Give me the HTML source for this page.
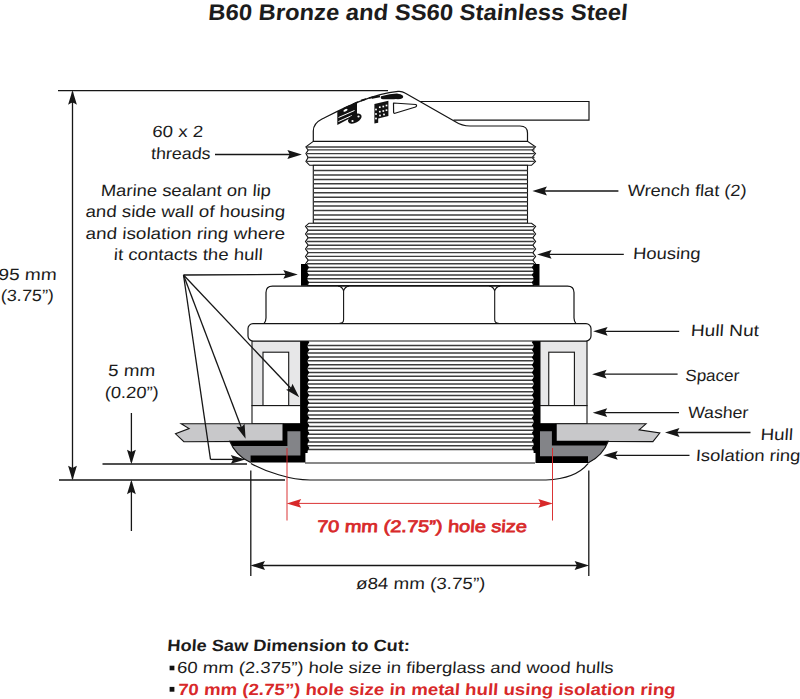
<!DOCTYPE html>
<html><head><meta charset="utf-8"><title>B60 Bronze and SS60 Stainless Steel</title>
<style>
html,body{margin:0;padding:0;background:#fff;width:800px;height:699px;overflow:hidden;}
svg{display:block;}
text{font-family:"Liberation Sans",sans-serif;}
</style></head>
<body>
<svg width="800" height="699" viewBox="0 0 800 699">
<path d="M420,101.5 H589 V120.2 H453.5" fill="none" stroke="#141414" stroke-width="1.2"/>
<path d="M313.3,141.4 V131 C313.3,125 316,122 322,119 C340,110 370,94 398,91.4 Q402,91 405,93 L455,121.5 Q462,126 470,126 H520 Q527.5,126 527.5,133 V141.4" fill="#fff" stroke="#141414" stroke-width="1.2"/>
<path d="M337.3,111.6 L357,102 L357,114.5 L337.3,125 Z" fill="#111"/>
<ellipse cx="345.5" cy="110.3" rx="2.2" ry="1.1" transform="rotate(-25 345.5 110.3)" fill="#fff"/>
<path d="M338.5,117.5 L354.5,110.5 M338.5,121.5 L352,115.5" stroke="#fff" stroke-width="1"/>
<ellipse cx="354.8" cy="118.6" rx="7.4" ry="4.2" transform="rotate(-28 354.8 118.6)" fill="#111"/>
<ellipse cx="352.5" cy="121" rx="1.1" ry="0.9" fill="#fff"/>
<ellipse cx="358.5" cy="116.5" rx="1.1" ry="0.9" fill="#fff"/>
<path d="M374.4,103.9 L388.4,100.8 L388.4,116.1 L378.2,118.6 L378.2,122.8 L374.4,123.5 Z" fill="#111"/>
<rect x="375.15" y="108.65" width="1.7" height="1.7" fill="#fff"/>
<rect x="375.15" y="113.15" width="1.7" height="1.7" fill="#fff"/>
<rect x="375.15" y="117.65" width="1.7" height="1.7" fill="#fff"/>
<rect x="378.95" y="106.35000000000001" width="1.7" height="1.7" fill="#fff"/>
<rect x="378.95" y="110.85000000000001" width="1.7" height="1.7" fill="#fff"/>
<rect x="382.45" y="105.65" width="1.7" height="1.7" fill="#fff"/>
<rect x="382.45" y="110.15" width="1.7" height="1.7" fill="#fff"/>
<rect x="385.65" y="104.65" width="1.7" height="1.7" fill="#fff"/>
<rect x="385.65" y="109.35000000000001" width="1.7" height="1.7" fill="#fff"/>
<rect x="379.15" y="114.65" width="1.7" height="1.7" fill="#fff"/>
<rect x="383.15" y="113.65" width="1.7" height="1.7" fill="#fff"/>
<path d="M393.5,103 L415.8,104.5 Q417.5,105.5 415.5,107 L395,113.2 Q393.6,113.6 393.6,112 Z" fill="#fff" stroke="#141414" stroke-width="1.2" stroke-linejoin="round"/>
<path d="M381,96.2 Q390,93.8 397,93.5 L401,94.5 Q404,96.5 400,98.6 L394,99.2 L383,99.3 Q380,99 381,96.2 Z" fill="#111"/>
<ellipse cx="398" cy="96.8" rx="5.2" ry="2.4" fill="#111"/>
<path d="M372,97.8 L380,96.3" stroke="#111" stroke-width="2"/>
<path d="M344,108.6 L350,105.8 M353,104.2 L358,102 M361,100.6 L366,99 M369,98 L373,97.3" stroke="#111" stroke-width="1.7"/>
<polygon points="313.3,141.4 305.9,146.9 308.1,150.2 305.9,153.6 308.1,157.5 305.9,161.4 309.6,165.3 313.3,165.3 527.5,165.3 531.5,165.3 535.5,161.4 532.2,157.5 535.5,153.6 532.2,150.2 535.5,146.9 527.5,141.4" fill="#fff" stroke="#141414" stroke-width="1.1"/>
<line x1="307" y1="147.0" x2="534.5" y2="147.0" stroke="#3c3c3c" stroke-width="1.4"/>
<line x1="307" y1="149.9" x2="534.5" y2="149.9" stroke="#3c3c3c" stroke-width="1.4"/>
<line x1="307" y1="153.6" x2="534.5" y2="153.6" stroke="#3c3c3c" stroke-width="1.4"/>
<line x1="307" y1="157.5" x2="534.5" y2="157.5" stroke="#3c3c3c" stroke-width="1.4"/>
<line x1="307" y1="161.4" x2="534.5" y2="161.4" stroke="#3c3c3c" stroke-width="1.4"/>
<rect x="313.3" y="165.3" width="214.2" height="57.9" fill="#fff" stroke="#141414" stroke-width="1.1"/>
<line x1="313.3" y1="170.50" x2="527.5" y2="170.50" stroke="#3c3c3c" stroke-width="1.5"/>
<line x1="313.3" y1="174.95" x2="527.5" y2="174.95" stroke="#3c3c3c" stroke-width="1.5"/>
<line x1="313.3" y1="179.40" x2="527.5" y2="179.40" stroke="#3c3c3c" stroke-width="1.5"/>
<line x1="313.3" y1="183.85" x2="527.5" y2="183.85" stroke="#3c3c3c" stroke-width="1.5"/>
<line x1="313.3" y1="188.30" x2="527.5" y2="188.30" stroke="#3c3c3c" stroke-width="1.5"/>
<line x1="313.3" y1="192.75" x2="527.5" y2="192.75" stroke="#3c3c3c" stroke-width="1.5"/>
<line x1="313.3" y1="197.20" x2="527.5" y2="197.20" stroke="#3c3c3c" stroke-width="1.5"/>
<line x1="313.3" y1="201.65" x2="527.5" y2="201.65" stroke="#3c3c3c" stroke-width="1.5"/>
<line x1="313.3" y1="206.10" x2="527.5" y2="206.10" stroke="#3c3c3c" stroke-width="1.5"/>
<line x1="313.3" y1="210.55" x2="527.5" y2="210.55" stroke="#3c3c3c" stroke-width="1.5"/>
<line x1="313.3" y1="215.00" x2="527.5" y2="215.00" stroke="#3c3c3c" stroke-width="1.5"/>
<line x1="313.3" y1="219.45" x2="527.5" y2="219.45" stroke="#3c3c3c" stroke-width="1.5"/>
<polygon points="313.3,223.2 309,223.2 305.5,226.4 308.2,230.15 305.5,233.9 308.2,237.65 305.5,241.4 308.2,245.15 305.5,248.9 308.2,252.65 305.5,256.4 308.2,260.15 305.5,263.9 308.2,267.65 305.5,271.4 308.2,275.15 305.5,278.9 308.2,282.65 307.5,285.6 533.5,285.6 532.8,282.65 535.6,278.9 532.8,275.15 535.6,271.4 532.8,267.65 535.6,263.9 532.8,260.15 535.6,256.4 532.8,252.65 535.6,248.9 532.8,245.15 535.6,241.4 532.8,237.65 535.6,233.9 532.8,230.15 535.6,226.4 531.5,223.2 527.5,223.2" fill="#fff" stroke="#141414" stroke-width="1.1"/>
<line x1="307" y1="226.60" x2="534" y2="226.60" stroke="#3c3c3c" stroke-width="1.4"/>
<line x1="307" y1="230.32" x2="534" y2="230.32" stroke="#3c3c3c" stroke-width="1.4"/>
<line x1="307" y1="234.04" x2="534" y2="234.04" stroke="#3c3c3c" stroke-width="1.4"/>
<line x1="307" y1="237.76" x2="534" y2="237.76" stroke="#3c3c3c" stroke-width="1.4"/>
<line x1="307" y1="241.48" x2="534" y2="241.48" stroke="#3c3c3c" stroke-width="1.4"/>
<line x1="307" y1="245.20" x2="534" y2="245.20" stroke="#3c3c3c" stroke-width="1.4"/>
<line x1="307" y1="248.92" x2="534" y2="248.92" stroke="#3c3c3c" stroke-width="1.4"/>
<line x1="307" y1="252.64" x2="534" y2="252.64" stroke="#3c3c3c" stroke-width="1.4"/>
<line x1="307" y1="256.36" x2="534" y2="256.36" stroke="#3c3c3c" stroke-width="1.4"/>
<line x1="307" y1="260.08" x2="534" y2="260.08" stroke="#3c3c3c" stroke-width="1.4"/>
<line x1="307" y1="263.80" x2="534" y2="263.80" stroke="#3c3c3c" stroke-width="1.4"/>
<line x1="307" y1="267.52" x2="534" y2="267.52" stroke="#3c3c3c" stroke-width="1.4"/>
<line x1="307" y1="271.24" x2="534" y2="271.24" stroke="#3c3c3c" stroke-width="1.4"/>
<line x1="307" y1="274.96" x2="534" y2="274.96" stroke="#3c3c3c" stroke-width="1.4"/>
<line x1="307" y1="278.68" x2="534" y2="278.68" stroke="#3c3c3c" stroke-width="1.4"/>
<line x1="307" y1="282.40" x2="534" y2="282.40" stroke="#3c3c3c" stroke-width="1.4"/>
<rect x="301" y="264" width="6.4" height="21.8" fill="#000"/>
<rect x="533.4" y="264" width="6.1" height="21.8" fill="#000"/>
<rect x="305" y="341" width="230" height="122" fill="#fff"/>
<line x1="307.6" y1="345.40" x2="533.4" y2="345.40" stroke="#3c3c3c" stroke-width="1.5"/>
<line x1="307.6" y1="349.26" x2="533.4" y2="349.26" stroke="#3c3c3c" stroke-width="1.5"/>
<line x1="307.6" y1="353.12" x2="533.4" y2="353.12" stroke="#3c3c3c" stroke-width="1.5"/>
<line x1="307.6" y1="356.98" x2="533.4" y2="356.98" stroke="#3c3c3c" stroke-width="1.5"/>
<line x1="307.6" y1="360.84" x2="533.4" y2="360.84" stroke="#3c3c3c" stroke-width="1.5"/>
<line x1="307.6" y1="364.70" x2="533.4" y2="364.70" stroke="#3c3c3c" stroke-width="1.5"/>
<line x1="307.6" y1="368.56" x2="533.4" y2="368.56" stroke="#3c3c3c" stroke-width="1.5"/>
<line x1="307.6" y1="372.42" x2="533.4" y2="372.42" stroke="#3c3c3c" stroke-width="1.5"/>
<line x1="307.6" y1="376.28" x2="533.4" y2="376.28" stroke="#3c3c3c" stroke-width="1.5"/>
<line x1="307.6" y1="380.14" x2="533.4" y2="380.14" stroke="#3c3c3c" stroke-width="1.5"/>
<line x1="307.6" y1="384.00" x2="533.4" y2="384.00" stroke="#3c3c3c" stroke-width="1.5"/>
<line x1="307.6" y1="387.86" x2="533.4" y2="387.86" stroke="#3c3c3c" stroke-width="1.5"/>
<line x1="307.6" y1="391.72" x2="533.4" y2="391.72" stroke="#3c3c3c" stroke-width="1.5"/>
<line x1="307.6" y1="395.58" x2="533.4" y2="395.58" stroke="#3c3c3c" stroke-width="1.5"/>
<line x1="307.6" y1="399.44" x2="533.4" y2="399.44" stroke="#3c3c3c" stroke-width="1.5"/>
<line x1="307.6" y1="403.30" x2="533.4" y2="403.30" stroke="#3c3c3c" stroke-width="1.5"/>
<line x1="307.6" y1="407.16" x2="533.4" y2="407.16" stroke="#3c3c3c" stroke-width="1.5"/>
<line x1="307.6" y1="411.02" x2="533.4" y2="411.02" stroke="#3c3c3c" stroke-width="1.5"/>
<line x1="307.6" y1="414.88" x2="533.4" y2="414.88" stroke="#3c3c3c" stroke-width="1.5"/>
<line x1="307.6" y1="418.74" x2="533.4" y2="418.74" stroke="#3c3c3c" stroke-width="1.5"/>
<line x1="307.6" y1="422.60" x2="533.4" y2="422.60" stroke="#3c3c3c" stroke-width="1.5"/>
<line x1="307.6" y1="426.46" x2="533.4" y2="426.46" stroke="#3c3c3c" stroke-width="1.5"/>
<line x1="307.6" y1="430.32" x2="533.4" y2="430.32" stroke="#3c3c3c" stroke-width="1.5"/>
<line x1="307.6" y1="434.18" x2="533.4" y2="434.18" stroke="#3c3c3c" stroke-width="1.5"/>
<line x1="307.6" y1="438.04" x2="533.4" y2="438.04" stroke="#3c3c3c" stroke-width="1.5"/>
<line x1="307.6" y1="441.90" x2="533.4" y2="441.90" stroke="#3c3c3c" stroke-width="1.5"/>
<line x1="307.6" y1="445.76" x2="533.4" y2="445.76" stroke="#3c3c3c" stroke-width="1.5"/>
<line x1="307.6" y1="449.62" x2="533.4" y2="449.62" stroke="#3c3c3c" stroke-width="1.5"/>
<line x1="305" y1="463" x2="535" y2="463" stroke="#141414" stroke-width="1.2"/>
<rect x="252" y="341" width="48.60000000000002" height="64.6" fill="#e7e7e8" stroke="#141414" stroke-width="1.1"/>
<rect x="263" y="352.2" width="25.69999999999999" height="53.4" fill="#fff" stroke="#141414" stroke-width="1.1"/>
<rect x="252" y="405.6" width="48.60000000000002" height="18.2" fill="#fff" stroke="#141414" stroke-width="1.1"/>
<rect x="540" y="341" width="47" height="64.6" fill="#e7e7e8" stroke="#141414" stroke-width="1.1"/>
<rect x="548.75" y="352.2" width="25.649999999999977" height="53.4" fill="#fff" stroke="#141414" stroke-width="1.1"/>
<rect x="540" y="405.6" width="47" height="18.2" fill="#fff" stroke="#141414" stroke-width="1.1"/>
<polygon points="181.2,423.8 283,423.8 283,441.2 183.9,441.7 175.5,433.8 189.1,428.6" fill="#c8c8ca" stroke="#141414" stroke-width="1.1"/>
<polygon points="556.2,423.8 646,423.8 639.1,429.8 659.8,433 652.9,441.6 556.2,441.2" fill="#c8c8ca" stroke="#141414" stroke-width="1.1"/>
<defs><clipPath id="cl"><path d="M283,423.6 H307.6 V462.6 H250.6 Q235.7,455.9 229.5,440.8 H283 Z"/></clipPath><clipPath id="cr"><path d="M556.2,423.6 H533.4 V463 H588 Q602.6,456.1 608.5,440.8 H556.2 Z"/></clipPath></defs>
<path d="M283,423.6 H307.6 V453 H305.4 V462.6 H250.6 Q235.7,455.9 229.5,440.8 H283 Z" fill="#000"/>
<rect x="300.7" y="341" width="6.9" height="90" fill="#000"/>
<polygon clip-path="url(#cl)" points="287.4,431.3 300.4,431.3 300.4,455.5 250.6,455.5 250.6,464 215,464 215,446 287.4,446" fill="#838488"/>
<path d="M556.2,423.6 H533.6 V453 H535.5 V463 H588 Q602.6,456.1 608.5,440.8 H556.2 Z" fill="#000"/>
<rect x="533.6" y="341" width="6.4" height="90" fill="#000"/>
<polygon clip-path="url(#cr)" points="551.9,431.3 540,431.3 540,456.2 588,456.2 588,464 620,464 620,445.6 551.9,445.6" fill="#838488"/>
<path d="M229.5,440.8 Q235.7,455.9 250.6,462.6 M608.5,440.8 Q602.6,456.1 588,463" fill="none" stroke="#141414" stroke-width="1.1"/>
<polygon points="307,338.9 309.4,342.3 307,345.7" fill="#000"/>
<polygon points="534.2,338.9 531.8,342.3 534.2,345.7" fill="#000"/>
<polygon points="307,346.5 309.4,349.9 307,353.2" fill="#000"/>
<polygon points="534.2,346.5 531.8,349.9 534.2,353.2" fill="#000"/>
<polygon points="307,354.0 309.4,357.4 307,360.8" fill="#000"/>
<polygon points="534.2,354.0 531.8,357.4 534.2,360.8" fill="#000"/>
<polygon points="307,361.6 309.4,365.0 307,368.4" fill="#000"/>
<polygon points="534.2,361.6 531.8,365.0 534.2,368.4" fill="#000"/>
<polygon points="307,369.1 309.4,372.5 307,375.9" fill="#000"/>
<polygon points="534.2,369.1 531.8,372.5 534.2,375.9" fill="#000"/>
<polygon points="307,376.7 309.4,380.1 307,383.5" fill="#000"/>
<polygon points="534.2,376.7 531.8,380.1 534.2,383.5" fill="#000"/>
<polygon points="307,384.2 309.4,387.6 307,391.0" fill="#000"/>
<polygon points="534.2,384.2 531.8,387.6 534.2,391.0" fill="#000"/>
<polygon points="307,391.8 309.4,395.2 307,398.6" fill="#000"/>
<polygon points="534.2,391.8 531.8,395.2 534.2,398.6" fill="#000"/>
<polygon points="307,399.3 309.4,402.7 307,406.1" fill="#000"/>
<polygon points="534.2,399.3 531.8,402.7 534.2,406.1" fill="#000"/>
<polygon points="307,406.9 309.4,410.3 307,413.7" fill="#000"/>
<polygon points="534.2,406.9 531.8,410.3 534.2,413.7" fill="#000"/>
<polygon points="307,414.4 309.4,417.8 307,421.2" fill="#000"/>
<polygon points="534.2,414.4 531.8,417.8 534.2,421.2" fill="#000"/>
<polygon points="307,422.0 309.4,425.4 307,428.8" fill="#000"/>
<polygon points="534.2,422.0 531.8,425.4 534.2,428.8" fill="#000"/>
<polygon points="307,429.5 309.4,432.9 307,436.3" fill="#000"/>
<polygon points="534.2,429.5 531.8,432.9 534.2,436.3" fill="#000"/>
<polygon points="307,437.1 309.4,440.5 307,443.9" fill="#000"/>
<polygon points="534.2,437.1 531.8,440.5 534.2,443.9" fill="#000"/>
<polygon points="307,444.6 309.4,448.0 307,451.4" fill="#000"/>
<polygon points="534.2,444.6 531.8,448.0 534.2,451.4" fill="#000"/>
<polygon points="307.2,264.7 309,267.3 307.2,269.90000000000003" fill="#000"/>
<polygon points="533.6,264.7 531.8,267.3 533.6,269.90000000000003" fill="#000"/>
<polygon points="307.2,272.2 309,274.8 307.2,277.40000000000003" fill="#000"/>
<polygon points="533.6,272.2 531.8,274.8 533.6,277.40000000000003" fill="#000"/>
<polygon points="307.2,279.7 309,282.3 307.2,284.90000000000003" fill="#000"/>
<polygon points="533.6,279.7 531.8,282.3 533.6,284.90000000000003" fill="#000"/>
<path d="M264,323.6 Q266,321 266,318 V292.5 Q266,286.1 272.5,286.1 H567.5 Q574,286.1 574,292.5 V318 Q574,321 576,323.6" fill="#fff" stroke="#141414" stroke-width="1.2"/>
<path d="M338.1,286.1 Q342.1,286.3 343.6,290.7 M349.1,286.1 Q345.1,286.3 343.6,290.7 V319.5 Q343.6,323.3 339.6,323.3" fill="none" stroke="#141414" stroke-width="1.1"/>
<path d="M489.2,286.1 Q493.2,286.3 494.7,290.7 M500.2,286.1 Q496.2,286.3 494.7,290.7 V319.5 Q494.7,323.3 498.7,323.3" fill="none" stroke="#141414" stroke-width="1.1"/>
<rect x="248" y="323.6" width="343" height="17.4" rx="5" fill="#fff" stroke="#141414" stroke-width="1.2"/>
<path d="M250.9,463.4 C265.9,471.6 290,480 310,480 H546 C570,479 582,471 588,463.6" fill="none" stroke="#141414" stroke-width="1.15"/>
<text transform="translate(207.7,20.4) skewX(-5)" x="0" y="0" font-size="22.6" font-weight="bold" fill="#1c1c1c" textLength="419.5" lengthAdjust="spacingAndGlyphs">B60 Bronze and SS60 Stainless Steel</text>
<line x1="58" y1="90.6" x2="388" y2="90.6" stroke="#161616" stroke-width="1.3"/>
<line x1="72.5" y1="92" x2="72.5" y2="479" stroke="#161616" stroke-width="1.3"/>
<path transform="translate(72.5,90.6) rotate(-90)" d="M0.3,0 L-14.2,-4.4 Q-12.60,-1.54 -12.0,0 Q-12.60,1.54 -14.2,4.4 Z" fill="#161616"/>
<path transform="translate(72.5,480) rotate(90)" d="M0.3,0 L-14.2,-4.4 Q-12.60,-1.54 -12.0,0 Q-12.60,1.54 -14.2,4.4 Z" fill="#161616"/>
<line x1="59" y1="480" x2="285" y2="480" stroke="#161616" stroke-width="1.3"/>
<line x1="102.5" y1="464" x2="247" y2="464" stroke="#161616" stroke-width="1.3"/>
<line x1="131.4" y1="413" x2="131.4" y2="462" stroke="#161616" stroke-width="1.3"/>
<path transform="translate(131.4,464) rotate(90)" d="M0.3,0 L-14.2,-4.4 Q-12.60,-1.54 -12.0,0 Q-12.60,1.54 -14.2,4.4 Z" fill="#161616"/>
<line x1="131.4" y1="482" x2="131.4" y2="531" stroke="#161616" stroke-width="1.3"/>
<path transform="translate(131.4,480) rotate(-90)" d="M0.3,0 L-14.2,-4.4 Q-12.60,-1.54 -12.0,0 Q-12.60,1.54 -14.2,4.4 Z" fill="#161616"/>
<text transform="translate(-2.0,279.8) skewX(-4)" x="0" y="0" font-size="16.3" font-weight="normal" fill="#1c1c1c" textLength="58.5" lengthAdjust="spacingAndGlyphs">95 mm</text>
<text transform="translate(0.5999999999999999,301.3) skewX(-4)" x="0" y="0" font-size="16.3" font-weight="normal" fill="#1c1c1c" textLength="52.9" lengthAdjust="spacingAndGlyphs">(3.75&#8221;)</text>
<text transform="translate(107.8,375.75) skewX(-4)" x="0" y="0" font-size="16.3" font-weight="normal" fill="#1c1c1c" textLength="47.1" lengthAdjust="spacingAndGlyphs">5 mm</text>
<text transform="translate(104.4,397.6) skewX(-4)" x="0" y="0" font-size="16.3" font-weight="normal" fill="#1c1c1c" textLength="53.9" lengthAdjust="spacingAndGlyphs">(0.20&#8221;)</text>
<text transform="translate(152.0,137.2) skewX(-4)" x="0" y="0" font-size="16.3" font-weight="normal" fill="#1c1c1c" textLength="50.8" lengthAdjust="spacingAndGlyphs">60 x 2</text>
<text transform="translate(150.7,158.5) skewX(-4)" x="0" y="0" font-size="16.3" font-weight="normal" fill="#1c1c1c" textLength="59.6" lengthAdjust="spacingAndGlyphs">threads</text>
<line x1="215" y1="154.5" x2="292" y2="154.5" stroke="#161616" stroke-width="1.3"/>
<path transform="translate(301.6,154.5) rotate(0)" d="M0.3,0 L-14.2,-4.4 Q-12.60,-1.54 -12.0,0 Q-12.60,1.54 -14.2,4.4 Z" fill="#161616"/>
<text transform="translate(100.4,196.1) skewX(-4)" x="0" y="0" font-size="16.3" font-weight="normal" fill="#1c1c1c" textLength="170.2" lengthAdjust="spacingAndGlyphs">Marine sealant on lip</text>
<text transform="translate(85.2,217.4) skewX(-4)" x="0" y="0" font-size="16.3" font-weight="normal" fill="#1c1c1c" textLength="199.6" lengthAdjust="spacingAndGlyphs">and side wall of housing</text>
<text transform="translate(85.2,238.7) skewX(-4)" x="0" y="0" font-size="16.3" font-weight="normal" fill="#1c1c1c" textLength="199.6" lengthAdjust="spacingAndGlyphs">and isolation ring where</text>
<text transform="translate(113.60000000000001,260) skewX(-4)" x="0" y="0" font-size="16.3" font-weight="normal" fill="#1c1c1c" textLength="148.7" lengthAdjust="spacingAndGlyphs">it contacts the hull</text>
<line x1="183.5" y1="275" x2="286.5" y2="274.46" stroke="#161616" stroke-width="1.3"/><path transform="translate(297.5,274.4) rotate(-0.3)" d="M0.3,0 L-14.2,-4.4 Q-12.60,-1.54 -12.0,0 Q-12.60,1.54 -14.2,4.4 Z" fill="#161616"/>
<line x1="183.5" y1="275" x2="291.44" y2="389.01" stroke="#161616" stroke-width="1.3"/><path transform="translate(299,397) rotate(46.57)" d="M0.3,0 L-14.2,-4.4 Q-12.60,-1.54 -12.0,0 Q-12.60,1.54 -14.2,4.4 Z" fill="#161616"/>
<line x1="183.5" y1="275" x2="241.6" y2="428.21" stroke="#161616" stroke-width="1.3"/><path transform="translate(245.5,438.5) rotate(69.23)" d="M0.3,0 L-14.2,-4.4 Q-12.60,-1.54 -12.0,0 Q-12.60,1.54 -14.2,4.4 Z" fill="#161616"/>
<line x1="183.5" y1="275" x2="210.5" y2="459.4" stroke="#161616" stroke-width="1.3"/>
<line x1="210.5" y1="459.4" x2="236" y2="459.4" stroke="#161616" stroke-width="1.3"/>
<path transform="translate(245,459.4) rotate(0)" d="M0.3,0 L-14.2,-4.4 Q-12.60,-1.54 -12.0,0 Q-12.60,1.54 -14.2,4.4 Z" fill="#161616"/>
<line x1="542.7" y1="191" x2="618.4" y2="191" stroke="#161616" stroke-width="1.3"/><path transform="translate(532.7,191) rotate(180)" d="M0.3,0 L-14.2,-4.4 Q-12.60,-1.54 -12.0,0 Q-12.60,1.54 -14.2,4.4 Z" fill="#161616"/><text transform="translate(627.3000000000001,195.8) skewX(-4)" x="0" y="0" font-size="16.3" font-weight="normal" fill="#1c1c1c" textLength="119.0" lengthAdjust="spacingAndGlyphs">Wrench flat (2)</text>
<line x1="547.4" y1="254.4" x2="623.8" y2="254.4" stroke="#161616" stroke-width="1.3"/><path transform="translate(537.4,254.4) rotate(180)" d="M0.3,0 L-14.2,-4.4 Q-12.60,-1.54 -12.0,0 Q-12.60,1.54 -14.2,4.4 Z" fill="#161616"/><text transform="translate(632.7,259.4) skewX(-4)" x="0" y="0" font-size="16.3" font-weight="normal" fill="#1c1c1c" textLength="67.6" lengthAdjust="spacingAndGlyphs">Housing</text>
<line x1="603.4" y1="331.3" x2="679.2" y2="331.3" stroke="#161616" stroke-width="1.3"/><path transform="translate(593.4,331.3) rotate(180)" d="M0.3,0 L-14.2,-4.4 Q-12.60,-1.54 -12.0,0 Q-12.60,1.54 -14.2,4.4 Z" fill="#161616"/><text transform="translate(690.5,336.4) skewX(-4)" x="0" y="0" font-size="16.3" font-weight="normal" fill="#1c1c1c" textLength="68.1" lengthAdjust="spacingAndGlyphs">Hull Nut</text>
<line x1="602.4" y1="374.2" x2="677.6" y2="374.2" stroke="#161616" stroke-width="1.3"/><path transform="translate(592.4,374.2) rotate(180)" d="M0.3,0 L-14.2,-4.4 Q-12.60,-1.54 -12.0,0 Q-12.60,1.54 -14.2,4.4 Z" fill="#161616"/><text transform="translate(685.1,380.8) skewX(-4)" x="0" y="0" font-size="16.3" font-weight="normal" fill="#1c1c1c" textLength="53.8" lengthAdjust="spacingAndGlyphs">Spacer</text>
<line x1="603" y1="412.7" x2="679" y2="412.7" stroke="#161616" stroke-width="1.3"/><path transform="translate(593,412.7) rotate(180)" d="M0.3,0 L-14.2,-4.4 Q-12.60,-1.54 -12.0,0 Q-12.60,1.54 -14.2,4.4 Z" fill="#161616"/><text transform="translate(687.8000000000001,418) skewX(-4)" x="0" y="0" font-size="16.3" font-weight="normal" fill="#1c1c1c" textLength="60.2" lengthAdjust="spacingAndGlyphs">Washer</text>
<line x1="675.3" y1="432.5" x2="750.5" y2="432.5" stroke="#161616" stroke-width="1.3"/><path transform="translate(665.3,432.5) rotate(180)" d="M0.3,0 L-14.2,-4.4 Q-12.60,-1.54 -12.0,0 Q-12.60,1.54 -14.2,4.4 Z" fill="#161616"/><text transform="translate(760.2,440) skewX(-4)" x="0" y="0" font-size="16.3" font-weight="normal" fill="#1c1c1c" textLength="32.4" lengthAdjust="spacingAndGlyphs">Hull</text>
<line x1="613.5" y1="455.3" x2="689.5" y2="455.3" stroke="#161616" stroke-width="1.3"/><path transform="translate(603.5,455.3) rotate(180)" d="M0.3,0 L-14.2,-4.4 Q-12.60,-1.54 -12.0,0 Q-12.60,1.54 -14.2,4.4 Z" fill="#161616"/><text transform="translate(695.4000000000001,461.3) skewX(-4)" x="0" y="0" font-size="16.3" font-weight="normal" fill="#1c1c1c" textLength="104.7" lengthAdjust="spacingAndGlyphs">Isolation ring</text>
<line x1="250.8" y1="470.5" x2="250.8" y2="576" stroke="#161616" stroke-width="1.3"/>
<line x1="588.8" y1="470.5" x2="588.8" y2="576" stroke="#161616" stroke-width="1.3"/>
<line x1="261" y1="565.5" x2="579" y2="565.5" stroke="#161616" stroke-width="1.3"/>
<path transform="translate(250.8,565.5) rotate(180)" d="M0.3,0 L-14.2,-4.4 Q-12.60,-1.54 -12.0,0 Q-12.60,1.54 -14.2,4.4 Z" fill="#161616"/>
<path transform="translate(588.8,565.5) rotate(0)" d="M0.3,0 L-14.2,-4.4 Q-12.60,-1.54 -12.0,0 Q-12.60,1.54 -14.2,4.4 Z" fill="#161616"/>
<text transform="translate(355.7,589.2) skewX(-4)" x="0" y="0" font-size="16.3" font-weight="normal" fill="#1c1c1c" textLength="129.3" lengthAdjust="spacingAndGlyphs">&#248;84 mm (3.75&#8221;)</text>
<line x1="287" y1="448" x2="287" y2="520.5" stroke="#d8292a" stroke-width="0.95"/>
<line x1="552.5" y1="448" x2="552.5" y2="520.5" stroke="#d8292a" stroke-width="0.95"/>
<line x1="297" y1="503.4" x2="542.5" y2="503.4" stroke="#d8292a" stroke-width="0.95"/>
<path transform="translate(287,503.4) rotate(180)" d="M0.3,0 L-14.2,-4.4 Q-12.60,-1.54 -12.0,0 Q-12.60,1.54 -14.2,4.4 Z" fill="#d8292a"/>
<path transform="translate(552.5,503.4) rotate(0)" d="M0.3,0 L-14.2,-4.4 Q-12.60,-1.54 -12.0,0 Q-12.60,1.54 -14.2,4.4 Z" fill="#d8292a"/>
<text transform="translate(316.7,531.8) skewX(-4)" x="0" y="0" font-size="16.6" font-weight="normal" fill="#d8292a" stroke="#d8292a" stroke-width="0.75" textLength="209.9" lengthAdjust="spacingAndGlyphs">70 mm (2.75&#8221;) hole size</text>
<text transform="translate(167.0,651.4) skewX(-4)" x="0" y="0" font-size="16.3" font-weight="bold" fill="#1c1c1c" textLength="242.5" lengthAdjust="spacingAndGlyphs">Hole Saw Dimension to Cut:</text>
<rect x="169.6" y="665.7" width="4.8" height="4.6" fill="#111"/>
<text transform="translate(176.79999999999998,673) skewX(-4)" x="0" y="0" font-size="16" font-weight="normal" fill="#1c1c1c" textLength="436.5" lengthAdjust="spacingAndGlyphs">60 mm (2.375&#8221;) hole size in fiberglass and wood hulls</text>
<rect x="169.6" y="686.9" width="4.8" height="4.8" fill="#111"/>
<text transform="translate(177.7,694.6) skewX(-4)" x="0" y="0" font-size="16.2" font-weight="bold" fill="#d8292a" textLength="497.5" lengthAdjust="spacingAndGlyphs">70 mm (2.75&#8221;) hole size in metal hull using isolation ring</text>
</svg>
</body></html>
